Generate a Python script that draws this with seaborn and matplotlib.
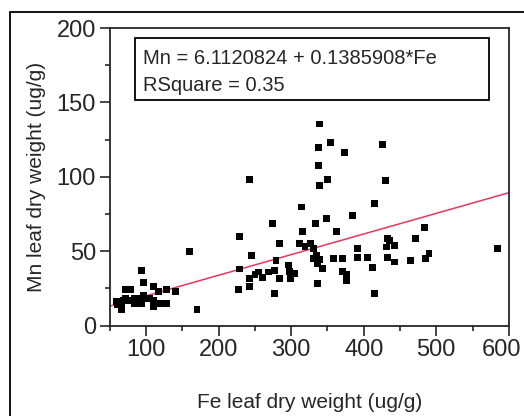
import matplotlib
matplotlib.use("Agg")
import matplotlib.pyplot as plt
from matplotlib.patches import Rectangle
from matplotlib.ticker import MultipleLocator, FixedLocator
import seaborn as sns
import pandas as pd

# Fe vs Mn leaf dry weight (ug/g)
fe = [59, 61, 66, 66, 68, 71, 71, 74, 78, 78, 84, 84, 87, 89, 89, 94, 94, 94, 96, 96,
      101, 105, 110, 110, 110, 117, 119, 128, 128, 140, 160, 170,
      227, 229, 229, 242, 242, 243, 245, 250, 255, 261, 268, 274, 277, 277, 279, 284, 284,
      296, 298, 299, 305, 311, 314, 316, 319, 326, 330,
      331, 334, 335, 336, 336, 337, 337, 339, 339, 339, 343, 348, 350, 354, 358, 362,
      371, 371, 373, 376, 376,
      385, 392, 392, 405, 412, 415, 415, 426, 430, 431, 433, 433, 435, 442, 442, 465,
      471, 484, 485, 490, 584]
mn = [16, 14, 10.5, 15, 17, 18, 24, 24, 24, 17, 18, 14.5, 16, 17, 14.5, 18, 15, 37, 29, 20,
      18, 18, 26, 17, 13, 23, 14.5, 24, 14.5, 23, 50, 11,
      24, 60, 38, 31.5, 26.3, 98.5, 47.3, 34, 36, 32, 36, 68.7, 37.3, 21.6, 44, 55.3, 31.7,
      40.7, 36.2, 31.7, 35.2, 55.3, 79.7, 63, 53, 55.3, 45.2,
      52, 68.7, 47.4, 28.4, 41.8, 107.4, 119.8, 94, 135.5, 44.5, 38.3, 72, 98.5, 123.2, 45.2, 63,
      44.9, 36.4, 116.4, 34.2, 30.4,
      74, 51.6, 46, 46, 39.3, 82.1, 21.6, 122, 97.3, 52.8, 58.4, 46, 57.3, 53.9, 42.7, 43.8,
      58.4, 66.2, 45, 48.3, 51.6]

# fitted line from the chart
intercept = 6.1120824
slope = 0.1385908
rsquare = 0.35
fit_x = [50, 600]
x_ticks = [100, 200, 300, 400, 500, 600]

df = pd.DataFrame({'Fe': fe, 'Mn': mn})
fit = pd.DataFrame({'Fe': fit_x, 'Mn': [intercept + slope * v for v in fit_x]})

sns.set_style("ticks")
plt.rcParams['font.family'] = ['Liberation Sans', 'DejaVu Sans']

fig = plt.figure(figsize=(5.24, 4.16), dpi=100)
ax = fig.add_axes([0.2099, 0.2175, 0.761, 0.715])

sns.lineplot(x='Fe', y='Mn', data=fit, color='#e8365d', linewidth=1.1, ax=ax, zorder=2)
sns.scatterplot(x='Fe', y='Mn', data=df, marker='s', s=25, color='black',
                edgecolor='none', linewidth=0, ax=ax, zorder=3)

ax.set_xlim(50, 600)
ax.set_ylim(0, 200)
ax.xaxis.set_major_locator(FixedLocator(x_ticks))
ax.set_xticklabels([str(t) for t in x_ticks[:-1]] + [''])
ax.xaxis.set_minor_locator(MultipleLocator(50))
ax.yaxis.set_major_locator(MultipleLocator(50))
ax.yaxis.set_minor_locator(MultipleLocator(25))
ax.tick_params(which='major', direction='out', length=7, width=1.2, labelsize=17, pad=3)
ax.tick_params(which='minor', direction='out', length=3.8, width=1.2)
for s in ax.spines.values():
    s.set_linewidth(1.3)

# last x label nudged left so it stays inside the picture
ax.annotate(str(x_ticks[-1]), xy=(x_ticks[-1], 0), xycoords=('data', 'axes fraction'),
            xytext=(-5.5, -10), textcoords='offset points', ha='center', va='top',
            fontsize=17, annotation_clip=False)

ax.set_xlabel('Fe leaf dry weight (ug/g)', fontsize=15, labelpad=23)
ax.set_ylabel('Mn leaf dry weight (ug/g)', fontsize=15, labelpad=8)

# equation box
ax.add_patch(Rectangle((0.0627, 0.758), 0.889, 0.208, transform=ax.transAxes,
                       fill=True, facecolor='white', edgecolor='black', linewidth=1.3, zorder=4))
ax.text(0.0835, 0.899, f'Mn = {intercept} + {slope}*Fe', transform=ax.transAxes,
        fontsize=14.5, va='center', ha='left', zorder=5)
ax.text(0.0835, 0.808, f'RSquare = {rsquare}', transform=ax.transAxes,
        fontsize=14.5, va='center', ha='left', zorder=5)

# outer frame, cut off at the right and bottom edges
fig.patches.append(Rectangle((10 / 524, -0.1), 1.2, 1 - 12 / 416 + 0.1,
                             transform=fig.transFigure, fill=False,
                             edgecolor='black', linewidth=1.3))

fig.savefig('out.png', dpi=100)
